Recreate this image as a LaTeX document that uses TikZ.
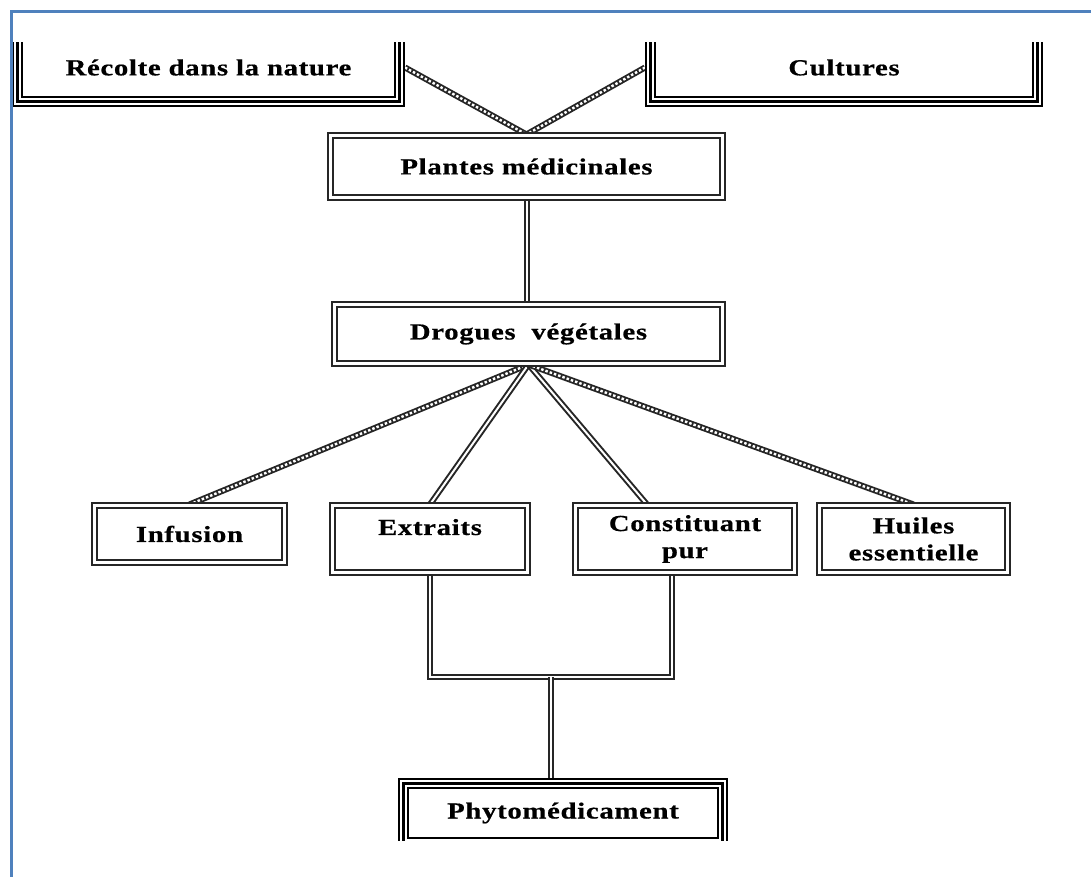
\documentclass[tikz,border=0pt]{standalone}
\usepackage{fontspec}
\newfontfamily\boxfont{Liberation Serif}[FakeStretch=1.25,LetterSpace=3,FakeBold=0.6]
\usetikzlibrary{calc}
\pgfdeclarelayer{back}
\pgfdeclarelayer{bg}
\pgfsetlayers{back,bg,main}
\definecolor{frameblue}{HTML}{4F81BD}
\begin{document}
\begin{tikzpicture}[x=1pt,y=-1pt,
  txt/.style={font=\boxfont\bfseries\fontsize{23}{27}\selectfont, align=center, inner sep=0pt},
  dbox/.style={txt, fill=white,
     preaction={draw=black!85, line width=2.4pt, transform canvas={shift={(1.5pt,-1.5pt)}}},
     draw=black!85, double=white, line width=2.1pt, double distance=2.4pt},
  tbox/.style={txt, fill=white, draw=black, line width=11pt,
     postaction={draw=white, line width=7pt},
     postaction={draw=black, line width=3.4pt}},
  dline/.style={draw=black!85, double=white, line width=2pt, double distance=2pt},
  hline/.style={draw=black!85, line width=6pt,
     postaction={draw=white, line width=2.4pt, dash pattern=on 2.5pt off 2pt}},
]
\begin{pgfonlayer}{back}
\fill[white] (0,0) rectangle (1091,877);
\end{pgfonlayer}
\useasboundingbox (0,0) rectangle (1091,877);

\begin{scope}
\clip (0,43) rectangle (1091,840);
\node[tbox, minimum width=382pt, minimum height=68pt] (rec) at (208.5,67.5) {Récolte dans la nature};
\node[tbox, minimum width=387pt, minimum height=68pt] (cul) at (844,67.5) {Cultures};
\node[dbox, minimum width=392pt, minimum height=62pt] (pla) at (526.5,166.5) {Plantes médicinales};
\node[dbox, minimum width=388pt, minimum height=59pt] (dro) at (528.5,334) {Drogues~ végétales};
\node[dbox, minimum width=190pt, minimum height=57pt] (inf) at (189.5,534) {Infusion};
\node[dbox, minimum width=195pt, minimum height=67pt] (ext) at (430,539) {\raisebox{-3pt}{Extraits}\\~};
\node[dbox, minimum width=219pt, minimum height=67pt] (con) at (685,539) {\raisebox{-3pt}{Constituant}\\\raisebox{-3pt}{pur}};
\node[dbox, minimum width=188pt, minimum height=67pt] (hui) at (913.5,539) {\raisebox{-3pt}{Huiles}\\\raisebox{-3pt}{essentielle}};
\node[tbox, minimum width=319pt, minimum height=59pt] (phy) at (563,813) {Phytomédicament};
\end{scope}

\begin{pgfonlayer}{bg}
\draw[hline] (rec.east) -- (pla.north);
\draw[hline] (cul.west) -- (pla.north);
\draw[dline] (pla.south) -- (pla.south |- dro.north);
\draw[hline] (dro.south) -- (inf.north);
\draw[dline] (dro.south) -- (ext.north);
\draw[dline] (dro.south) -- ([xshift=-38pt]con.north);
\draw[hline] (dro.south) -- (hui.north);
\coordinate (bl) at (430,677);
\coordinate (br) at (672,677);
\coordinate (bm) at ($(bl)!0.5!(br)$);
\draw[dline] (ext.south) -- (bl) -- (br) -- (br |- con.south);
\draw[dline] (bm) -- (bm |- phy.north);
\end{pgfonlayer}

\draw[frameblue, line width=3pt] (11,877) -- (11,12) -- (1091,12);
\end{tikzpicture}
\end{document}
